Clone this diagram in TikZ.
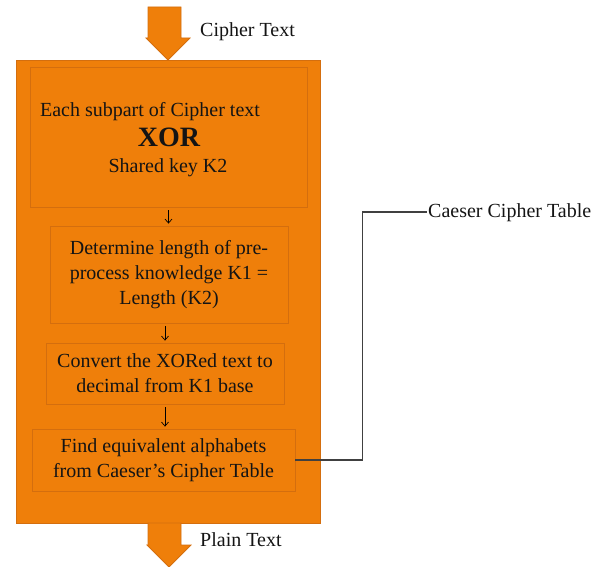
\documentclass[tikz,border=0pt]{standalone}
\usepackage{fontspec}
\setmainfont{Liberation Serif}
\usetikzlibrary{arrows.meta}
\definecolor{orfill}{RGB}{239,127,10}
\definecolor{orline}{RGB}{212,110,14}
\definecolor{conn}{RGB}{64,64,64}
\definecolor{txt}{RGB}{20,20,20}
\begin{document}
\begin{tikzpicture}[x=1pt,y=-1pt,
  stepbox/.style={draw=orline, line width=0.8pt, fill=orfill, inner sep=0pt, align=center,
    font=\fontsize{20}{25}\selectfont, text=txt},
  lbl/.style={font=\fontsize{20}{24}\selectfont, inner sep=0pt, text=txt},
  smallarrow/.style={-{Straight Barb[length=4pt,width=7pt]}, line width=0.7pt, black,
    shorten <=3pt, shorten >=2pt},
  bigarrow/.style={fill=orfill, draw=orline, line width=0.8pt},
  link/.style={draw=conn, line width=1.3pt}]
\useasboundingbox (0,0) rectangle (608,567);
% main container
\node[draw=orline, line width=0.8pt, fill=orfill, minimum width=304, minimum height=463, inner sep=0pt] (main) at (168,291.5) {};
% top arrow
\draw[bigarrow] (148,7) -- (181,7) -- (181,38) -- (190,38) -- (168,60) -- (146,38) -- (148,38) -- cycle;
\node[lbl, anchor=base west] (cin) at (200,37) {Cipher Text};
% bottom arrow
\draw[bigarrow] (148,523) -- (181,523) -- (181,545) -- (191,545) -- (169,567) -- (147,545) -- (148,545) -- cycle;
\node[lbl, anchor=base west] (pout) at (200,546) {Plain Text};
% box 1
\node[stepbox, minimum width=277, minimum height=140] (b1) at (168.5,137) {};
\node[lbl, anchor=base] (t1a) at (150,117) {Each subpart of Cipher text};
\node[lbl, anchor=base, font=\fontsize{28}{30}\selectfont\bfseries] (t1b) at (169,147) {XOR};
\node[lbl, anchor=base] (t1c) at (168,172) {Shared key K2};
% box 2
\node[stepbox, minimum width=238, minimum height=97] (b2) at (169,274.5)
  {Determine length of pre-\\process knowledge K1 =\\Length (K2)};
% box 3
\node[stepbox, minimum width=238, minimum height=61] (b3) at (165,373.5)
  {Convert the XORed text to\\decimal from K1 base};
% box 4
\node[stepbox, minimum width=263, minimum height=62] (b4) at (163.5,460)
  {Find equivalent alphabets\\from Caeser’s Cipher Table};
% small arrows
\draw[smallarrow] (b1.south) -- (b1.south |- b2.north);
\draw[smallarrow] (b3.north |- b2.south) -- (b3.north);
\draw[smallarrow] (b3.south) -- (b3.south |- b4.north);
% side label and connector
\node[lbl, anchor=base west] (ct) at (428,217) {Caeser Cipher Table};
\coordinate (ctl) at (427,212);
\draw[link] (b4.east) -- ++(67,0) |- (ctl);
\end{tikzpicture}
\end{document}
